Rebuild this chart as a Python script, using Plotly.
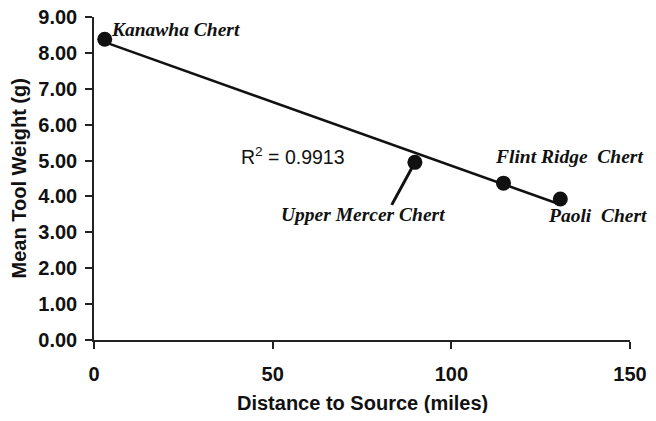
"""
Mean tool weight against distance to the chert source, with a linear trendline.
"""

import numpy as np
import plotly.graph_objs as go

# Data
sources = ["Kanawha Chert", "Upper Mercer Chert", "Flint Ridge  Chert", "Paoli  Chert"]
distance = [3.0, 89.8, 114.6, 130.5]
weight = [8.38, 4.95, 4.37, 3.93]
r2_label = "R<sup>2</sup> = 0.9913"

SANS = "Liberation Sans, Arial, sans-serif"
SERIF = "Liberation Serif, Times New Roman, serif"
INK = "#111111"

# Least-squares trendline over the range of the data
slope, intercept = np.polyfit(distance, weight, 1)
trend_x = [min(distance), max(distance)]
trend_y = [slope * x + intercept for x in trend_x]

fig = go.Figure()

fig.add_trace(go.Scatter(
    x=trend_x, y=trend_y, mode="lines",
    line={"color": INK, "width": 2.5},
    hoverinfo="skip", showlegend=False,
))
fig.add_trace(go.Scatter(
    x=distance, y=weight, mode="markers",
    marker={"color": INK, "size": 15},
    text=sources, showlegend=False,
))

# Point labels, offset from each marker
label_font = {"family": SERIF, "size": 19.5, "color": INK}
placements = [
    dict(xshift=4, yshift=10, xanchor="left"),
    dict(xshift=-52, yshift=-52, xanchor="center"),
    dict(xshift=-11, yshift=27, xanchor="left"),
    dict(xshift=-14, yshift=-17, xanchor="left"),
]
for name, x, y, opts in zip(sources, distance, weight, placements):
    fig.add_annotation(
        x=x, y=y, text=f"<b><i>{name}</i></b>", font=label_font,
        showarrow=False, yanchor="middle", **opts
    )

# Leader line from the Upper Mercer point down to its label
fig.add_annotation(
    x=distance[1], y=weight[1], text="", showarrow=True,
    arrowhead=0, arrowwidth=3, arrowcolor=INK, ax=-24, ay=44, standoff=7,
)

fig.add_annotation(
    x=55.7, y=5.12, text=r2_label, showarrow=False,
    xanchor="center", yanchor="middle",
    font={"family": SANS, "size": 19.5, "color": INK},
)

# Axis titles placed as paper annotations for exact positioning
title_font = {"family": SANS, "size": 20, "color": INK}
fig.add_annotation(
    xref="paper", yref="paper", x=0.5, y=-0.195,
    text="<b>Distance to Source (miles)</b>", showarrow=False,
    xanchor="center", yanchor="middle", font=title_font,
)
fig.add_annotation(
    xref="paper", yref="paper", x=-0.14, y=0.5, textangle=-90,
    text="<b>Mean Tool Weight (g)</b>", showarrow=False,
    xanchor="center", yanchor="middle", font=title_font,
)

axis_common = dict(
    showgrid=False, zeroline=False, showline=True, automargin=False,
    linecolor="#222222", linewidth=1.5,
    ticks="outside", ticklen=7, tickwidth=1.5, tickcolor="#222222",
    ticklabeloverflow="allow",
    tickfont={"family": SANS, "size": 20, "color": INK, "weight": "bold"},
)

# The page body adds an 8px margin; keep the page from scrolling
fig.update_layout(
    width=648, height=405,
    paper_bgcolor="white", plot_bgcolor="white",
    margin={"l": 86, "r": 26, "t": 9, "b": 73},
    xaxis=dict(range=[0, 150], dtick=50, ticklabelstandoff=8, **axis_common),
    yaxis=dict(range=[0, 9], dtick=1, tickformat=".2f", ticklabelstandoff=4,
               **axis_common),
)

fig.write_html("out.html")
